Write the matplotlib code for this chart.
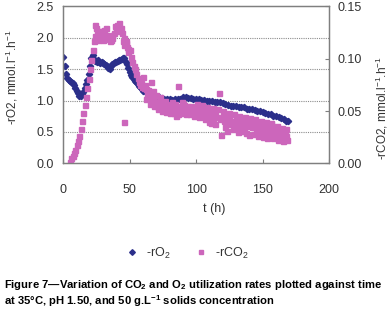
import numpy as np
import matplotlib
matplotlib.use("Agg")
import matplotlib.pyplot as plt
from matplotlib.ticker import FormatStrFormatter

plt.rcParams['font.family'] = ['Liberation Sans', 'DejaVu Sans']
plt.rcParams['mathtext.fontset'] = 'custom'
plt.rcParams['mathtext.rm'] = 'Liberation Sans'
plt.rcParams['mathtext.it'] = 'Liberation Sans:italic'
plt.rcParams['mathtext.bf'] = 'Liberation Sans:bold'

# -rO2 (left axis, mmol.l-1.h-1)
t_o2 = [0, 1, 2, 3, 4, 5, 6, 7, 8, 9, 10, 11, 12, 13, 14, 15, 16, 17, 18, 19,
        20, 21, 22, 23, 24, 25, 26, 27, 28, 29, 30, 31, 32, 33, 34, 35, 36, 37, 38, 39,
        40, 41, 42, 43, 44, 45, 46, 47, 48, 49, 50, 51, 52, 53, 54, 55, 56, 57, 58, 59,
        60, 62, 64, 66, 68, 70, 72, 74, 76, 78, 80, 82, 84, 86, 88, 90, 92, 94, 96, 98,
        100, 102, 104, 106, 108, 110, 112, 114, 116, 118, 120, 122, 124, 126, 128, 130,
        132, 134, 136, 138, 140, 142, 144, 146, 148, 150, 152, 154, 156, 158, 160, 162,
        164, 166, 168, 169]
r_o2 = [1.70, 1.55, 1.42, 1.36, 1.33, 1.31, 1.30, 1.28, 1.24, 1.20, 1.16, 1.12, 1.08, 1.07,
        1.10, 1.14, 1.20, 1.27, 1.33, 1.42, 1.55, 1.68, 1.72, 1.66, 1.63, 1.62, 1.64, 1.62,
        1.60, 1.61, 1.59, 1.58, 1.57, 1.55, 1.52, 1.51, 1.55, 1.58, 1.60, 1.62, 1.61, 1.63,
        1.65, 1.64, 1.66, 1.68, 1.67, 1.62, 1.58, 1.52, 1.46, 1.41, 1.37, 1.34, 1.31, 1.29,
        1.26, 1.23, 1.21, 1.19, 1.16, 1.13, 1.11, 1.09, 1.07, 1.06, 1.05, 1.04, 1.03, 1.02,
        1.02, 1.01, 1.02, 1.02, 1.03, 1.05, 1.05, 1.04, 1.04, 1.03, 1.02, 1.02, 1.01, 1.01,
        1.00, 0.99, 0.99, 0.98, 0.97, 0.97, 0.96, 0.95, 0.93, 0.92, 0.92, 0.91, 0.90, 0.89,
        0.89, 0.87, 0.86, 0.86, 0.85, 0.84, 0.83, 0.82, 0.80, 0.79, 0.78, 0.76, 0.75, 0.74,
        0.72, 0.70, 0.68, 0.67]

# -rCO2 (right axis, mmol.l-1.h-1)
t_co2 = [5, 6, 7, 8, 9, 10, 11, 12, 13, 14, 15, 16, 17, 18, 19, 20, 21, 22, 23, 23.5,
         24, 25, 26, 27, 28, 29, 30, 31, 32, 33, 34, 35, 36, 37, 38, 39, 40, 41, 42, 43,
         44, 45, 46, 45.7, 47, 48, 49, 50, 51, 52, 53, 54, 55, 56, 57, 58, 59, 60, 61, 62,
         63, 64, 65, 66, 67, 68, 69, 70, 71, 72, 73, 74, 75, 76, 77, 78, 79, 80, 81, 82,
         83, 84, 85, 86, 87, 88, 89, 90, 91, 92, 93, 94, 95, 96, 97, 98, 99, 100, 101, 102,
         103, 104, 105, 106, 107, 108, 110, 111, 112, 113, 114, 116, 117, 118, 119, 120,
         121, 122, 124, 125, 126, 128, 129, 130, 132, 133, 134, 135, 136, 138, 139, 140,
         141, 142, 143, 144, 145, 146, 147, 148, 149, 150, 151, 152, 153, 154, 155, 156,
         157, 158, 159, 160, 161, 162, 163, 164, 165, 166, 167, 168,
         # additional points of the scattered band
         24.5, 26.5, 28.5, 30.5, 32.5, 34.5, 36.5, 40.5, 43.5, 45.5, 47.5, 48.5,
         58.5, 61.5, 67.5, 72.5, 76.5, 81.5, 89.5,
         62.5, 65.5, 68.5, 71.5, 74.5, 77.5, 80.5, 83.5, 86.5, 89.5, 92.5, 95.5,
         100.5, 104.5, 108.5, 112.5, 116.5, 120.5, 124.5, 128.5, 132.5, 136.5, 140.5,
         144.5, 148.5, 152.5, 156.5, 160.5, 164.5, 167.5,
         98.5, 102.5, 106.5, 109.5, 114.5, 121.5, 123.5, 127.5, 131.5, 134.5, 137.5,
         142.5, 146.5, 150.5, 153.5, 157.5, 161.5, 165.5, 168.5]
r_co2 = [0.0012, 0.0048, 0.0072, 0.0102, 0.0132, 0.0180, 0.0216, 0.0264, 0.0330, 0.0408,
         0.0480, 0.0558, 0.0630, 0.0720, 0.0810, 0.0900, 0.0990, 0.1080, 0.1170, 0.1320,
         0.1212, 0.1248, 0.1176, 0.1224, 0.1200, 0.1260, 0.1176, 0.1272, 0.1230, 0.1200,
         0.1212, 0.1164, 0.1182, 0.1194, 0.1248, 0.1308, 0.1272, 0.1290, 0.1338, 0.1260,
         0.1242, 0.1170, 0.1128, 0.0396, 0.1146, 0.1110, 0.1068, 0.1080, 0.1020, 0.0972,
         0.0930, 0.0900, 0.0858, 0.0816, 0.0780, 0.0750, 0.0732, 0.0828, 0.0720, 0.0708,
         0.0660, 0.0702, 0.0624, 0.0780, 0.0648, 0.0600, 0.0588, 0.0654, 0.0540, 0.0576,
         0.0600, 0.0558, 0.0576, 0.0552, 0.0570, 0.0528, 0.0540, 0.0558, 0.0516, 0.0546,
         0.0528, 0.0570, 0.0450, 0.0738, 0.0522, 0.0552, 0.0510, 0.0570, 0.0558, 0.0528,
         0.0546, 0.0516, 0.0540, 0.0552, 0.0504, 0.0528, 0.0498, 0.0528, 0.0510, 0.0540,
         0.0492, 0.0516, 0.0480, 0.0504, 0.0468, 0.0498, 0.0456, 0.0384, 0.0480, 0.0432,
         0.0468, 0.0444, 0.0672, 0.0420, 0.0270, 0.0450, 0.0408, 0.0432, 0.0396, 0.0420,
         0.0372, 0.0408, 0.0360, 0.0432, 0.0396, 0.0348, 0.0420, 0.0378, 0.0330, 0.0396,
         0.0360, 0.0270, 0.0384, 0.0348, 0.0396, 0.0360, 0.0312, 0.0372, 0.0342, 0.0300,
         0.0360, 0.0330, 0.0288, 0.0348, 0.0312, 0.0336, 0.0282, 0.0372, 0.0300, 0.0330,
         0.0270, 0.0312, 0.0252, 0.0300, 0.0264, 0.0240, 0.0288, 0.0252, 0.0276, 0.0264,
         0.1290, 0.1260, 0.1236, 0.1218, 0.1290, 0.1188, 0.1230, 0.1320, 0.1296, 0.1200,
         0.1170, 0.1092,
         0.0768, 0.0750, 0.0690, 0.0630, 0.0600, 0.0588, 0.0588,
         0.0612, 0.0570, 0.0552, 0.0516, 0.0504, 0.0492, 0.0480, 0.0480, 0.0468, 0.0480,
         0.0468, 0.0474,
         0.0570, 0.0558, 0.0540, 0.0528, 0.0516, 0.0504, 0.0480, 0.0468, 0.0456, 0.0444,
         0.0432, 0.0420, 0.0408, 0.0396, 0.0384, 0.0360, 0.0342, 0.0330,
         0.0456, 0.0444, 0.0420, 0.0396, 0.0372, 0.0348, 0.0312, 0.0330, 0.0300, 0.0312,
         0.0288, 0.0276, 0.0264, 0.0252, 0.0240, 0.0246, 0.0222, 0.0210, 0.0228]

x_ticks = [0, 50, 100, 150, 200]
y_ticks_left = [0.0, 0.5, 1.0, 1.5, 2.0, 2.5]
y_ticks_right = [0.00, 0.05, 0.10, 0.15]

blue = '#2B2F8A'
pink = '#CC66BB'
txt = '#333333'
spine_c = '#7F7F7F'

W, H = 391, 316
fig = plt.figure(figsize=(W / 100, H / 100), dpi=100)
x0, x1, ytop, ybot = 63.3, 329.0, 6.3, 163.4
ax = fig.add_axes([x0 / W, 1 - ybot / H, (x1 - x0) / W, (ybot - ytop) / H])
ax2 = ax.twinx()

ax.set_xlim(0, 200)
ax.set_ylim(0, 2.5)
ax2.set_ylim(0, 0.15)

for g in y_ticks_left[1:-1]:
    ax.axhline(g, color='#8C8C8C', lw=0.8, ls=(0, (1, 1)), zorder=0)

ax.plot(t_o2, r_o2, ls='none', marker='D', ms=3.2, color=blue, mec=blue, label='-rO$_2$')
ax2.plot(t_co2, r_co2, ls='none', marker='s', ms=3.6, color=pink, mec=pink, label='-rCO$_2$')

ax.set_xticks(x_ticks)
ax.set_yticks(y_ticks_left)
ax2.set_yticks(y_ticks_right)
ax.yaxis.set_major_formatter(FormatStrFormatter('%.1f'))
ax2.yaxis.set_major_formatter(FormatStrFormatter('%.2f'))

for a in (ax, ax2):
    for s in a.spines.values():
        s.set_color(spine_c)
        s.set_linewidth(0.9)
ax.tick_params(axis='x', direction='in', length=3, pad=15, labelsize=9, colors=txt, color=spine_c)
ax.tick_params(axis='y', direction='out', length=0, pad=7, labelsize=9, colors=txt, color=spine_c)
ax2.tick_params(axis='y', direction='in', length=3, pad=6, labelsize=9, colors=txt, color=spine_c)

ax.set_xlabel('t (h)', fontsize=9, color=txt)
ax.xaxis.set_label_coords((214 - x0) / (x1 - x0), -(209 - ybot) / (ybot - ytop))
ax.xaxis.label.set_va('center')
ax.set_ylabel('-rO2, mmol.l$^{-1}$.h$^{-1}$', fontsize=8.5, color=txt)
ax.yaxis.set_label_coords((12 - x0) / (x1 - x0), (ybot - 77) / (ybot - ytop))
ax.yaxis.label.set_va('center')
ax2.set_ylabel('-rCO2, mmol.l$^{-1}$.h$^{-1}$', fontsize=8.5, color=txt, rotation=90)
ax2.yaxis.set_label_coords((382 - x0) / (x1 - x0), (ybot - 108) / (ybot - ytop))
ax2.yaxis.label.set_va('center')

h1, l1 = ax.get_legend_handles_labels()
h2, l2 = ax2.get_legend_handles_labels()
fig.legend(h1 + h2, l1 + l2, loc='center', bbox_to_anchor=(184 / W, 1 - 253 / H), ncol=2,
           frameon=False, fontsize=9, handletextpad=0.1, columnspacing=1.5, markerscale=0.9,
           labelcolor=txt)

cap_font = ['Liberation Sans', 'DejaVu Sans']
fig.text(4 / W, 1 - 285 / H,
         r'Figure 7—Variation of CO$_\mathbf{2}$ and O$_\mathbf{2}$ utilization rates plotted against time',
         fontsize=8.1, fontweight='bold', family=cap_font, va='center', ha='left')
fig.text(4 / W, 1 - 301 / H,
         r'at 35°C, pH 1.50, and 50 g.L$^\mathbf{-1}$ solids concentration',
         fontsize=8.1, fontweight='bold', family=cap_font, va='center', ha='left')

fig.savefig('out.png', dpi=100)
